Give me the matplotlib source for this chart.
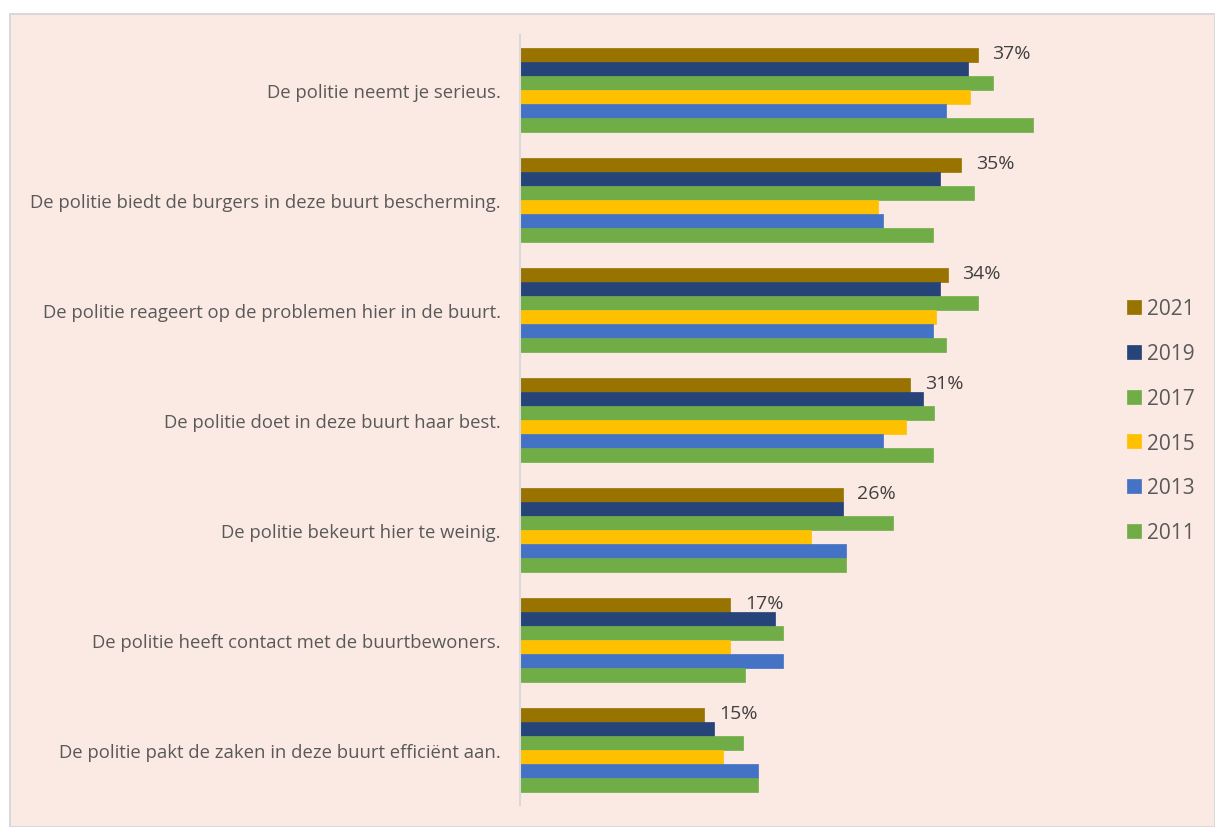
import matplotlib.pyplot as plt
import numpy as np
from matplotlib.patches import Rectangle

categories = [
    "De politie neemt je serieus.",
    "De politie biedt de burgers in deze buurt bescherming.",
    "De politie reageert op de problemen hier in de buurt.",
    "De politie doet in deze buurt haar best.",
    "De politie bekeurt hier te weinig.",
    "De politie heeft contact met de buurtbewoners.",
    "De politie pakt de zaken in deze buurt efficiënt aan.",
]
years = ["2021", "2019", "2017", "2015", "2013", "2011"]
colors = ["#997300", "#264478", "#70AD47", "#FFC000", "#4472C4", "#70AD47"]

v2021 = [36.6, 35.3, 34.2, 31.2, 25.8, 16.8, 14.7]
v2019 = [35.8, 33.6, 33.6, 32.2, 25.8, 20.4, 15.5]
v2017 = [37.8, 36.3, 36.6, 33.1, 29.8, 21.0, 17.8]
v2015 = [36.0, 28.6, 33.3, 30.9, 23.3, 16.8, 16.2]
v2013 = [34.1, 29.0, 33.0, 29.0, 26.1, 21.0, 19.0]
v2011 = [41.0, 33.0, 34.1, 33.0, 26.1, 18.0, 19.0]
series = [v2021, v2019, v2017, v2015, v2013, v2011]

plt.rcParams['font.family'] = ['Open Sans', 'DejaVu Sans']

W, H = 1215, 828
fig = plt.figure(figsize=(W / 100, H / 100), dpi=100)
fig.patch.set_facecolor("white")
# chart area panel
fig.patches.append(Rectangle((10 / W, 0), 1 - 10 / W, (H - 15) / H,
                             transform=fig.transFigure, facecolor="#FBEAE3",
                             edgecolor="#D9D9D9", linewidth=1.5, zorder=-10))

ax = fig.add_axes([520 / W, 22 / H, 562.5 / W, 770 / H])
ax.set_facecolor("none")

y = np.arange(len(categories))
h = 0.127
bars = []
for j, (yr, vals, c) in enumerate(zip(years, series, colors)):
    b = ax.barh(y + (j - 2.5) * h, vals, height=h, color=c, label=yr,
                edgecolor=c, linewidth=0.5)
    bars.append(b)

for rect, v in zip(bars[0], v2021):
    ax.annotate(f"{v:.0f}%", (rect.get_width(), rect.get_y() + rect.get_height() / 2),
                xytext=(15, 2), textcoords="offset pixels", va="center", ha="left",
                fontsize=14, color="#404040")

ax.set_xlim(0, 45)
ax.set_ylim(6.5, -0.5)
ax.set_yticks(y)
ax.set_yticklabels(categories, fontsize=13.3, color="#595959")
ax.tick_params(axis="y", length=0, pad=14)
ax.set_xticks([])
for s in ["top", "right", "bottom"]:
    ax.spines[s].set_visible(False)
ax.spines["left"].set_color("#D9D9D9")
ax.spines["left"].set_linewidth(1.5)

fig.legend(loc="upper left", bbox_to_anchor=(1117 / W, (H - 289) / H),
           frameon=False, fontsize=15, labelcolor="#595959",
           handlelength=0.65, handleheight=0.65, handletextpad=0.3,
           labelspacing=1.14, borderpad=0)

fig.savefig("out.png", dpi=100, facecolor=fig.get_facecolor())
